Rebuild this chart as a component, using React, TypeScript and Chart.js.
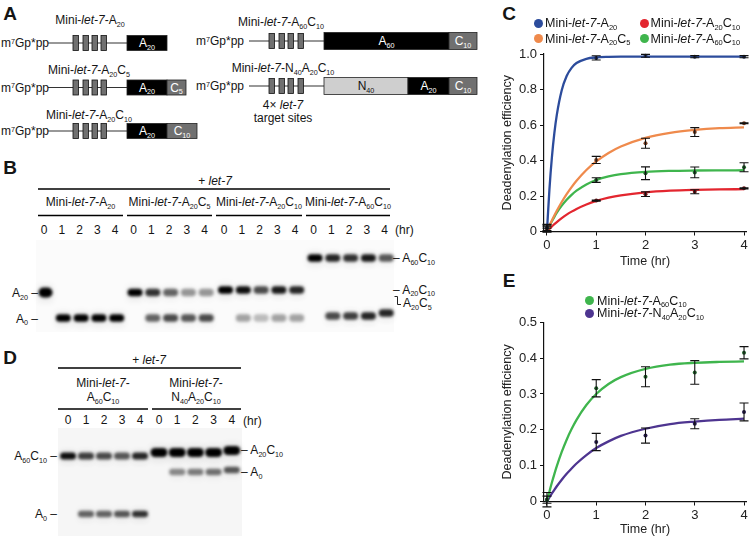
import React, { useEffect, useRef } from 'react';
import { Chart, registerables } from 'chart.js';
Chart.register(...registerables);

const FONT = '"Liberation Sans", Arial, Helvetica, sans-serif';
Chart.defaults.font.family = FONT;
Chart.defaults.color = '#222';

// ---------- shared axis data ----------
const timeHr = [0, 1, 2, 3, 4];
const fitTimeHr = [0, 0.05, 0.1, 0.15, 0.2, 0.3, 0.4, 0.5, 0.6, 0.8, 1, 1.25, 1.5, 2, 2.5, 3, 3.5, 4];
const xTicks = [0, 1, 2, 3, 4];
const xTickLabels = ['0', '1', '2', '3', '4'];
const yTicksC = [0, 0.2, 0.4, 0.6, 0.8, 1.0];
const yTickLabelsC = ['0', '0.2', '0.4', '0.6', '0.8', '1.0'];
const yTicksE = [0, 0.1, 0.2, 0.3, 0.4, 0.5];
const yTickLabelsE = ['0', '0.1', '0.2', '0.3', '0.4', '0.5'];

// ---------- panel C ----------
const cA20Mean = [0.02, 0.978, 0.99, 0.985, 0.985];
const cA20Err = [0.02, 0.012, 0.008, 0.006, 0.006];
const cA20Fit = [0, 0.236, 0.417, 0.554, 0.657, 0.796, 0.876, 0.922, 0.949, 0.973, 0.981, 0.984, 0.985, 0.985, 0.985, 0.985, 0.985, 0.985];

const cA20C5Mean = [0.012, 0.403, 0.497, 0.56, 0.61];
const cA20C5Err = [0.015, 0.02, 0.028, 0.025, 0.003];
const cA20C5Fit = [0, 0.0316, 0.0615, 0.0897, 0.1166, 0.166, 0.2103, 0.25, 0.2856, 0.3463, 0.395, 0.4427, 0.479, 0.528, 0.556, 0.572, 0.582, 0.587];

const cA20C10Mean = [0.008, 0.174, 0.21, 0.224, 0.243];
const cA20C10Err = [0.01, 0.003, 0.013, 0.011, 0.003];
const cA20C10Fit = [0, 0.0147, 0.0284, 0.0413, 0.0534, 0.0756, 0.095, 0.112, 0.1273, 0.1524, 0.172, 0.1903, 0.204, 0.221, 0.23, 0.2345, 0.237, 0.2384];

const cA60C10Mean = [0.02, 0.29, 0.328, 0.333, 0.362];
const cA60C10Err = [0.015, 0.013, 0.036, 0.03, 0.025];
const cA60C10Fit = [0, 0.0302, 0.0577, 0.0828, 0.1058, 0.1458, 0.179, 0.2068, 0.23, 0.2652, 0.29, 0.31, 0.323, 0.336, 0.3415, 0.3436, 0.3445, 0.345];

// ---------- panel E ----------
const eA60C10Mean = [0.005, 0.316, 0.348, 0.36, 0.415];
const eA60C10Err = [0.02, 0.024, 0.028, 0.033, 0.017];
const eA60C10Fit = [0, 0.0274, 0.0529, 0.0766, 0.0987, 0.1383, 0.1725, 0.202, 0.2278, 0.2691, 0.3, 0.328, 0.347, 0.37, 0.382, 0.387, 0.3895, 0.391];

const eN40Mean = [0.005, 0.166, 0.184, 0.217, 0.25];
const eN40Err = [0.01, 0.024, 0.021, 0.014, 0.025];
const eN40Fit = [0, 0.0115, 0.0224, 0.0327, 0.0426, 0.0609, 0.0775, 0.092, 0.106, 0.1294, 0.149, 0.1677, 0.183, 0.203, 0.216, 0.223, 0.228, 0.231];

// ---------- gels (band intensities per lane, 0..1) ----------
const laneHr = ['0', '1', '2', '3', '4'];
const gelBUpper = [[1, 0, 0, 0, 0], [1, 0.8, 0.6, 0.4, 0.4], [1, 0.95, 0.7, 0.9, 0.85], [1, 0.85, 0.8, 0.9, 0.65]];
const gelBLower = [[0, 1, 1, 1, 1], [0, 0.6, 0.7, 0.65, 0.7], [0, 0.35, 0.25, 0.35, 0.35], [0, 0.7, 0.75, 0.85, 0.85]];
const gelDUpper = [[0.95, 0.75, 0.7, 0.65, 0.85], [1, 1, 1, 1, 1]];
const gelDLower = [[0, 0.6, 0.6, 0.65, 0.8], [0, 0.45, 0.5, 0.55, 0.65]];

const COLORS = {
  blue: '#2c4c9c', orange: '#ef8a4c', red: '#e3262f', green: '#3fb54d', purple: '#4e3590',
};

const errorBarPlugin = {
  id: 'errorBars',
  afterDatasetsDraw(chart: any) {
    const ctx = chart.ctx;
    const ys = chart.scales.y;
    chart.data.datasets.forEach((ds: any, i: number) => {
      if (!ds.errors) return;
      const meta = chart.getDatasetMeta(i);
      ctx.save();
      ctx.strokeStyle = '#111';
      ctx.lineWidth = 1.1;
      meta.data.forEach((pt: any, j: number) => {
        const v = ds.data[j].y;
        const e = ds.errors[j];
        const y1 = ys.getPixelForValue(v - e);
        const y2 = ys.getPixelForValue(v + e);
        const x = pt.x;
        ctx.beginPath();
        ctx.moveTo(x, y1); ctx.lineTo(x, y2);
        ctx.moveTo(x - 4.5, y1); ctx.lineTo(x + 4.5, y1);
        ctx.moveTo(x - 4.5, y2); ctx.lineTo(x + 4.5, y2);
        ctx.stroke();
      });
      ctx.restore();
    });
  },
};

type Series = { color: string; dot: string; mean: number[]; err: number[]; fit: number[] };

function FitChart(props: {
  x: number; y: number; w: number; h: number; series: Series[];
  yTicks: number[]; yLabels: string[]; yMax: number; padTop: number; xAxisH: number; titlePad: number;
}) {
  const ref = useRef<HTMLCanvasElement>(null);
  useEffect(() => {
    const { series, yTicks, yLabels, yMax, padTop, xAxisH, titlePad } = props;
    const datasets: any[] = [];
    series.forEach((s) => {
      datasets.push({
        type: 'line', data: fitTimeHr.map((t, i) => ({ x: t, y: s.fit[i] })),
        borderColor: s.color, borderWidth: 2.3, pointRadius: 0, cubicInterpolationMode: 'monotone',
        fill: false, order: 2, clip: false,
      });
      datasets.push({
        type: 'scatter', data: timeHr.map((t, i) => ({ x: t, y: s.mean[i] })),
        pointRadius: 2, pointBackgroundColor: s.dot, pointBorderWidth: 0, order: 1,
        errors: s.err, clip: false,
      });
    });
    const axisCommon = {
      grid: { drawOnChartArea: false, drawTicks: true, tickLength: 4, color: '#111', lineWidth: 1 },
      border: { display: true, color: '#111', width: 1.2 },
    };
    const chart = new Chart(ref.current as HTMLCanvasElement, {
      type: 'line',
      data: { datasets },
      plugins: [errorBarPlugin],
      options: {
        animation: false, responsive: false, events: [],
        layout: { padding: { top: padTop, right: 2, left: 0, bottom: 0 } },
        plugins: { legend: { display: false }, tooltip: { enabled: false } },
        scales: {
          x: {
            type: 'linear', min: -0.06, max: 4.04,
            afterBuildTicks: (s: any) => { s.ticks = xTicks.map((v) => ({ value: v })); },
            afterFit: (s: any) => { s.height = xAxisH; },
            ticks: {
              callback: (v: any) => { const k = xTicks.indexOf(Number(v)); return k >= 0 ? xTickLabels[k] : ''; },
              color: '#222', font: { size: 13 }, padding: 2, maxRotation: 0, autoSkip: false,
            },
            title: { display: true, text: 'Time (hr)', color: '#222', font: { size: 12.5 }, padding: { top: 0, bottom: titlePad } },
            ...axisCommon,
          },
          y: {
            type: 'linear', min: 0, max: yMax,
            afterBuildTicks: (s: any) => { s.ticks = yTicks.map((v) => ({ value: v })); },
            afterFit: (s: any) => { s.width = 54; },
            ticks: {
              callback: (v: any) => { const k = yTicks.indexOf(Number(v)); return k >= 0 ? yLabels[k] : ''; },
              color: '#222', font: { size: 13 }, padding: 3, autoSkip: false,
            },
            title: { display: true, text: 'Deadenylation efficiency', color: '#222', font: { size: 12.5 }, padding: { top: 10.5, bottom: 0 } },
            ...axisCommon,
          },
        },
      } as any,
    });
    return () => chart.destroy();
  }, []);
  return <canvas ref={ref} width={props.w} height={props.h} style={{ position: 'absolute', left: props.x, top: props.y }} />;
}

const Sub = ({ children }: any) => <span style={{ fontSize: '0.6em', position: 'relative', top: '0.35em' }}>{children}</span>;
const Sup = ({ children }: any) => <span style={{ fontSize: '0.6em', position: 'relative', top: '-0.45em' }}>{children}</span>;

function Txt({ x, y, a = 'l', s = 12, c = '#151515', b = false, children }: any) {
  const tx = a === 'l' ? '0' : a === 'm' ? '-50%' : '-100%';
  return (
    <div style={{
      position: 'absolute', left: x, top: y, transform: `translate(${tx}, -50%)`, fontSize: s, fontFamily: FONT,
      color: c, fontWeight: b ? 'bold' : 'normal', whiteSpace: 'nowrap', lineHeight: 1,
    }}>{children}</div>
  );
}

const Seq = ({ parts }: { parts: string[][] }) => (
  <>{parts.map(([b, s], i) => <React.Fragment key={i}>{b}<Sub>{s}</Sub></React.Fragment>)}</>
);
const Mini = ({ parts }: { parts: string[][] }) => (<>Mini-<i>let-7</i>-<Seq parts={parts} /></>);

const Dot = ({ x, y, color }: any) => (
  <div style={{ position: 'absolute', left: x - 4.5, top: y - 4.5, width: 9, height: 9, borderRadius: '50%', background: color }} />
);

function Construct({ y, lineFrom, lineTo, sites, boxes, h }: any) {
  return (
    <g>
      <line x1={lineFrom} y1={y} x2={lineTo} y2={y} stroke="#333" strokeWidth={1.2} />
      {sites.map((sx: number, i: number) => (
        <rect key={i} x={sx} y={y - 7.5} width={5.5} height={15} fill="#707070" stroke="#111" strokeWidth={0.8} />
      ))}
      {boxes.map((b: any, i: number) => (
        <rect key={'b' + i} x={b.x} y={y - h / 2} width={b.w} height={h} fill={b.fill} stroke="#222" strokeWidth={0.8} />
      ))}
    </g>
  );
}

function Band({ cx, cy, w, h, I }: any) {
  if (I <= 0) return null;
  return (
    <g opacity={Math.min(1, I)}>
      <rect x={cx - w / 2 - 0.5} y={cy - h / 2 - 3} width={w + 1} height={h + 8} rx={3} fill="#000" opacity={0.06} filter="url(#bl2)" />
      <rect x={cx - w / 2} y={cy - h / 2} width={w} height={h} rx={h / 2} fill="#000" filter="url(#bl)" />
    </g>
  );
}

export default function App() {
  const seriesC: Series[] = [
    { color: COLORS.blue, dot: '#1b2c5e', mean: cA20Mean, err: cA20Err, fit: cA20Fit },
    { color: COLORS.orange, dot: '#7a3f22', mean: cA20C5Mean, err: cA20C5Err, fit: cA20C5Fit },
    { color: COLORS.green, dot: '#1d5f27', mean: cA60C10Mean, err: cA60C10Err, fit: cA60C10Fit },
    { color: COLORS.red, dot: '#6e1216', mean: cA20C10Mean, err: cA20C10Err, fit: cA20C10Fit },
  ];
  const seriesE: Series[] = [
    { color: COLORS.green, dot: '#1d5f27', mean: eA60C10Mean, err: eA60C10Err, fit: eA60C10Fit },
    { color: COLORS.purple, dot: '#24184d', mean: eN40Mean, err: eN40Err, fit: eN40Fit },
  ];

  const leftRows = [43, 87.5, 131];
  const leftSites = [73, 83, 92, 101];
  const rightSites = [269, 279, 288, 298];

  const bStarts = [44, 133.5, 224, 313.5];
  const bUpperY = [292.5, 292.5, 290, 258];
  const bLowerY = [318, 318, 318, 316];
  const bGroups = [[['A', '20']], [['A', '20'], ['C', '5']], [['A', '20'], ['C', '10']], [['A', '60'], ['C', '10']]];
  const bSeg = [[38, 123], [127, 212], [216, 302], [306, 390]];

  const dStarts = [68, 159];
  const dStep = [18, 18.2];
  const dUpperY = [456, 452.5];
  const dLowerY = [514, 472];
  const dSeg = [[58, 148], [152, 241]];

  return (
    <div style={{ position: 'absolute', left: 0, top: 0, width: 750, height: 538, background: '#fff', overflow: 'hidden', fontFamily: FONT }}>
      <svg width={750} height={538} style={{ position: 'absolute', left: 0, top: 0 }}>
        <defs>
          <filter id="bl" x="-50%" y="-100%" width="200%" height="300%">
            <feGaussianBlur stdDeviation="1.5" />
          </filter>
          <filter id="bl2" x="-50%" y="-100%" width="200%" height="300%">
            <feGaussianBlur stdDeviation="3" />
          </filter>
        </defs>
        {/* Panel A constructs */}
        <Construct y={leftRows[0]} lineFrom={48} lineTo={127} sites={leftSites} h={15}
          boxes={[{ x: 127, w: 40, fill: '#000' }]} />
        <Construct y={leftRows[1]} lineFrom={48} lineTo={127} sites={leftSites} h={15}
          boxes={[{ x: 127, w: 40, fill: '#000' }, { x: 167, w: 19, fill: '#707070' }]} />
        <Construct y={leftRows[2]} lineFrom={48} lineTo={127} sites={leftSites} h={15}
          boxes={[{ x: 127, w: 40, fill: '#000' }, { x: 167, w: 30, fill: '#707070' }]} />
        <Construct y={41} lineFrom={249} lineTo={324} sites={rightSites} h={17}
          boxes={[{ x: 324, w: 125, fill: '#000' }, { x: 449, w: 28, fill: '#707070' }]} />
        <Construct y={86} lineFrom={249} lineTo={324} sites={rightSites} h={17}
          boxes={[{ x: 324, w: 84, fill: '#cfcfcf' }, { x: 408, w: 41, fill: '#000' }, { x: 449, w: 28, fill: '#707070' }]} />

        {/* Panel B */}
        <rect x={36} y={240} width={358} height={92} fill="#fbfbfb" />
        <line x1={38} y1={189} x2={390} y2={189} stroke="#000" strokeWidth={1.6} />
        {bSeg.map(([a, b], i) => <line key={i} x1={a} y1={215.5} x2={b} y2={215.5} stroke="#000" strokeWidth={1.6} />)}
        {bStarts.map((st, g) => laneHr.map((_, l) => (
          <React.Fragment key={g + '-' + l}>
            <Band cx={st + l * 17.8 + 1.5} cy={bUpperY[g]} w={g === 0 ? 14 : 15} h={g === 0 ? 10 : 7.5} I={gelBUpper[g][l]} />
            <Band cx={st + l * 17.8 + 1.5} cy={bLowerY[g] - (g === 3 && l === 4 ? 3 : 0)} w={15} h={7.5} I={gelBLower[g][l]} />
          </React.Fragment>
        )))}
        <path d="M394.5 296.5 H397.5 V304.5 H401" fill="none" stroke="#222" strokeWidth={1} />

        {/* Panel D */}
        <rect x={58} y={428} width={184} height={108} fill="#f6f6f6" />
        <line x1={58} y1={368} x2={241} y2={368} stroke="#000" strokeWidth={1.6} />
        {dSeg.map(([a, b], i) => <line key={i} x1={a} y1={409} x2={b} y2={409} stroke="#000" strokeWidth={1.6} />)}
        {dStarts.map((st, g) => laneHr.map((_, l) => (
          <React.Fragment key={g + '-' + l}>
            <Band cx={st + l * dStep[g]} cy={dUpperY[g] - (g === 1 && l === 4 ? 2 : 0)} w={g === 1 ? 17 : 16} h={g === 1 ? 9 : 7} I={gelDUpper[g][l]} />
            <Band cx={st + l * dStep[g]} cy={dLowerY[g] - (g === 1 && l === 4 ? 2 : 0)} w={16} h={6.5} I={gelDLower[g][l]} />
          </React.Fragment>
        )))}
      </svg>

      {/* Panel letters */}
      <Txt x={10} y={12.5} a="m" s={19} b>A</Txt>
      <Txt x={10} y={166.5} a="m" s={19} b>B</Txt>
      <Txt x={509} y={12.5} a="m" s={19} b>C</Txt>
      <Txt x={10} y={356.5} a="m" s={19} b>D</Txt>
      <Txt x={509} y={279.5} a="m" s={19} b>E</Txt>

      {/* Panel A text */}
      <Txt x={90} y={20} a="m"><Mini parts={[['A', '20']]} /></Txt>
      <Txt x={89} y={70} a="m"><Mini parts={[['A', '20'], ['C', '5']]} /></Txt>
      <Txt x={89} y={115} a="m"><Mini parts={[['A', '20'], ['C', '10']]} /></Txt>
      <Txt x={281} y={22} a="m"><Mini parts={[['A', '60'], ['C', '10']]} /></Txt>
      <Txt x={283} y={68} a="m"><Mini parts={[['N', '40'], ['A', '20'], ['C', '10']]} /></Txt>
      {leftRows.map((y, i) => <Txt key={i} x={1} y={y}>m<Sup>7</Sup>Gp*pp</Txt>)}
      <Txt x={196} y={41}>m<Sup>7</Sup>Gp*pp</Txt>
      <Txt x={196} y={86}>m<Sup>7</Sup>Gp*pp</Txt>
      <Txt x={147} y={leftRows[0]} a="m" c="#fff"><Seq parts={[['A', '20']]} /></Txt>
      <Txt x={147} y={leftRows[1]} a="m" c="#fff"><Seq parts={[['A', '20']]} /></Txt>
      <Txt x={176.5} y={leftRows[1]} a="m" c="#fff"><Seq parts={[['C', '5']]} /></Txt>
      <Txt x={147} y={leftRows[2]} a="m" c="#fff"><Seq parts={[['A', '20']]} /></Txt>
      <Txt x={182} y={leftRows[2]} a="m" c="#fff"><Seq parts={[['C', '10']]} /></Txt>
      <Txt x={386.5} y={41} a="m" c="#fff"><Seq parts={[['A', '60']]} /></Txt>
      <Txt x={463} y={41} a="m" c="#fff"><Seq parts={[['C', '10']]} /></Txt>
      <Txt x={366} y={86} a="m" c="#111"><Seq parts={[['N', '40']]} /></Txt>
      <Txt x={428.5} y={86} a="m" c="#fff"><Seq parts={[['A', '20']]} /></Txt>
      <Txt x={463} y={86} a="m" c="#fff"><Seq parts={[['C', '10']]} /></Txt>
      <Txt x={283} y={105} a="m">4× <i>let-7</i></Txt>
      <Txt x={283} y={118} a="m">target sites</Txt>

      {/* Panel B text */}
      <Txt x={215} y={181} a="m">+ <i>let-7</i></Txt>
      {bGroups.map((p, i) => <Txt key={i} x={(bSeg[i][0] + bSeg[i][1]) / 2} y={202} a="m"><Mini parts={p} /></Txt>)}
      {bStarts.map((st, g) => laneHr.map((t, l) => <Txt key={g + 'n' + l} x={st + l * 17.8} y={230} a="m">{t}</Txt>))}
      <Txt x={395} y={230}>(hr)</Txt>
      <Txt x={38} y={293} a="r"><Seq parts={[['A', '20']]} /> –</Txt>
      <Txt x={38} y={318.5} a="r"><Seq parts={[['A', '0']]} /> –</Txt>
      <Txt x={393} y={258}>– <Seq parts={[['A', '60'], ['C', '10']]} /></Txt>
      <Txt x={393} y={289.5}>– <Seq parts={[['A', '20'], ['C', '10']]} /></Txt>
      <Txt x={403} y={303}><Seq parts={[['A', '20'], ['C', '5']]} /></Txt>

      {/* Panel D text */}
      <Txt x={149} y={360} a="m">+ <i>let-7</i></Txt>
      <Txt x={103} y={383} a="m">Mini-<i>let-7</i>-</Txt>
      <Txt x={103} y={397} a="m"><Seq parts={[['A', '60'], ['C', '10']]} /></Txt>
      <Txt x={196} y={383} a="m">Mini-<i>let-7</i>-</Txt>
      <Txt x={196} y={397} a="m"><Seq parts={[['N', '40'], ['A', '20'], ['C', '10']]} /></Txt>
      {dStarts.map((st, g) => laneHr.map((t, l) => <Txt key={g + 'd' + l} x={st + l * dStep[g]} y={420} a="m">{t}</Txt>))}
      <Txt x={243} y={421}>(hr)</Txt>
      <Txt x={57} y={456} a="r"><Seq parts={[['A', '60'], ['C', '10']]} /> –</Txt>
      <Txt x={57} y={514} a="r"><Seq parts={[['A', '0']]} /> –</Txt>
      <Txt x={241} y={450}>– <Seq parts={[['A', '20'], ['C', '10']]} /></Txt>
      <Txt x={241} y={472}>– <Seq parts={[['A', '0']]} /></Txt>

      {/* Charts */}
      <FitChart x={490} y={30} w={260} h={240} series={seriesC} yTicks={yTicksC} yLabels={yTickLabelsC}
        yMax={1.0} padTop={24} xAxisH={38.5} titlePad={0.5} />
      <FitChart x={490} y={300} w={260} h={238} series={seriesE} yTicks={yTicksE} yLabels={yTickLabelsE}
        yMax={0.5} padTop={22.3} xAxisH={36.5} titlePad={0.5} />

      {/* Legends */}
      <Dot x={538} y={23} color={COLORS.blue} />
      <Txt x={545} y={23} s={12.5}><Mini parts={[['A', '20']]} /></Txt>
      <Dot x={644} y={23} color={COLORS.red} />
      <Txt x={650.5} y={23} s={12.5}><Mini parts={[['A', '20'], ['C', '10']]} /></Txt>
      <Dot x={538} y={38.5} color={COLORS.orange} />
      <Txt x={545} y={38.5} s={12.5}><Mini parts={[['A', '20'], ['C', '5']]} /></Txt>
      <Dot x={644} y={38.5} color={COLORS.green} />
      <Txt x={650.5} y={38.5} s={12.5}><Mini parts={[['A', '60'], ['C', '10']]} /></Txt>

      <Dot x={589} y={300.5} color={COLORS.green} />
      <Txt x={597} y={300.5} s={12.5}><Mini parts={[['A', '60'], ['C', '10']]} /></Txt>
      <Dot x={589} y={313} color={COLORS.purple} />
      <Txt x={597} y={313} s={12.5}><Mini parts={[['N', '40'], ['A', '20'], ['C', '10']]} /></Txt>
    </div>
  );
}
